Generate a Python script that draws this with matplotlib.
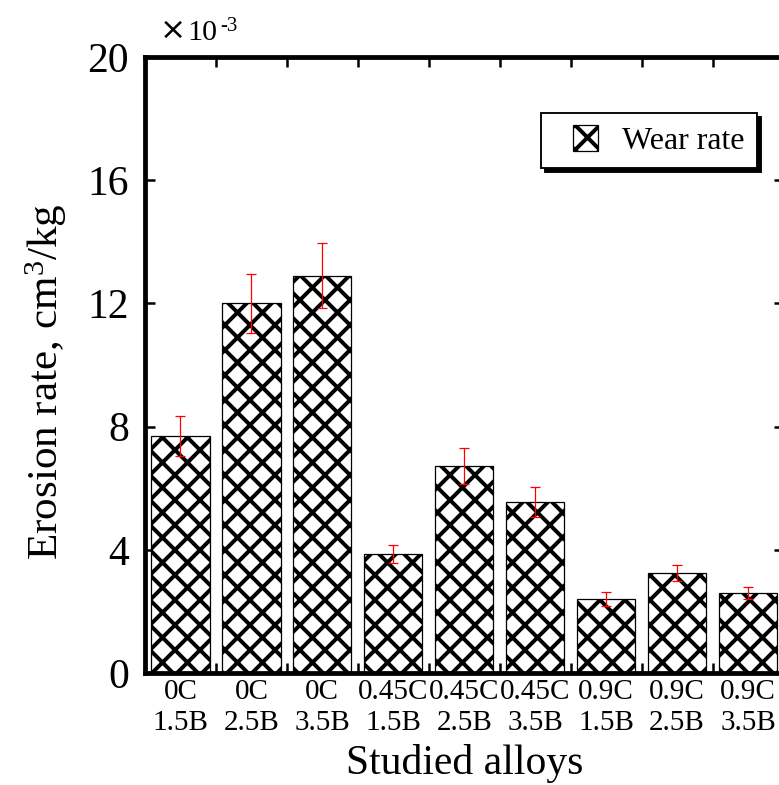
import matplotlib
matplotlib.use("Agg")
import matplotlib.pyplot as plt
import matplotlib.patches as mpatches
from matplotlib.container import BarContainer
from matplotlib.legend_handler import HandlerPatch
import numpy as np

# valori in unita' di 1e-3 cm^3/kg
alloys = ["0C\n1.5B", "0C\n2.5B", "0C\n3.5B", "0.45C\n1.5B", "0.45C\n2.5B",
          "0.45C\n3.5B", "0.9C\n1.5B", "0.9C\n2.5B", "0.9C\n3.5B"]
wear = [7.7, 12.0, 12.9, 3.86, 6.72, 5.55, 2.40, 3.25, 2.60]
err = [0.65, 0.97, 1.05, 0.30, 0.58, 0.48, 0.22, 0.27, 0.20]
yticks = [0, 4, 8, 12, 16, 20]

DPI = 150
W, H = 779, 785
plt.rcParams['font.family'] = ['Liberation Serif', 'DejaVu Serif']
plt.rcParams['mathtext.fontset'] = 'custom'
plt.rcParams['mathtext.rm'] = 'Liberation Serif'
plt.rcParams['mathtext.it'] = 'Liberation Serif:italic'
plt.rcParams['hatch.linewidth'] = 1.9


def square_patch(legend, orig_handle, xdescent, ydescent, width, height, fontsize):
    # quadratino spostato a destra nello spazio della legenda
    return mpatches.Rectangle((width - height - xdescent, -ydescent), height, height)


fig = plt.figure(figsize=(W / DPI, H / DPI), dpi=DPI)
ax = fig.add_axes([145 / W, 1 - 673 / H, (783.5 - 145) / W, (673 - 57) / H])

x = np.arange(len(alloys))
ax.bar(x, wear, width=0.82, color='white', edgecolor='black', linewidth=0.6,
       hatch='xx', label='Wear rate')
ax.errorbar(x, wear, yerr=err, fmt='none', ecolor='red', elinewidth=0.6,
            capsize=2.3, capthick=0.6)

ax.set_xlim(-0.5, len(alloys) - 0.5)
ax.set_ylim(0, 20)
ax.set_yticks(yticks)
ax.set_xticks(x)
ax.set_xticklabels(alloys, fontsize=14, linespacing=1.25)
ax.set_xticks(x[:-1] + 0.5, minor=True)
ax.set_axisbelow(True)

for s in ax.spines.values():
    s.set_linewidth(2.3)
ax.tick_params(axis='y', which='major', direction='in', length=4.6, width=1.2,
               labelsize=20, pad=7.7, right=True)
ax.tick_params(axis='x', which='major', length=0, pad=3)
ax.tick_params(axis='x', which='minor', direction='in', length=4.6, width=1.2,
               top=True)

ax.set_ylabel('Erosion rate, cm$^3$/kg', fontsize=20.7, labelpad=9, y=0.472)
ax.set_xlabel('Studied alloys', fontsize=20, labelpad=3.5)

fig.text(160 / W, 1 - 39 / H, '\u00d7', fontsize=15, va='baseline', family='DejaVu Sans')
fig.text(187 / W, 1 - 40 / H, '10', fontsize=14.4, va='baseline')
fig.text(220 / W, 1 - 31 / H, '-3', fontsize=10, va='baseline')

leg = ax.legend(loc='upper right', bbox_to_anchor=(0.958, 0.909), borderaxespad=0,
                fontsize=15.3, fancybox=False, edgecolor='black', framealpha=1,
                shadow={'color': 'black', 'alpha': 1.0}, handlelength=1.41,
                handleheight=0.85, handletextpad=0.75, borderpad=0.38,
                handler_map={BarContainer: HandlerPatch(
                    patch_func=square_patch,
                    update_func=lambda h, o: h.update_from(o.patches[0]))})
leg.get_frame().set_linewidth(0.9)

fig.savefig("out.png", dpi=DPI)
